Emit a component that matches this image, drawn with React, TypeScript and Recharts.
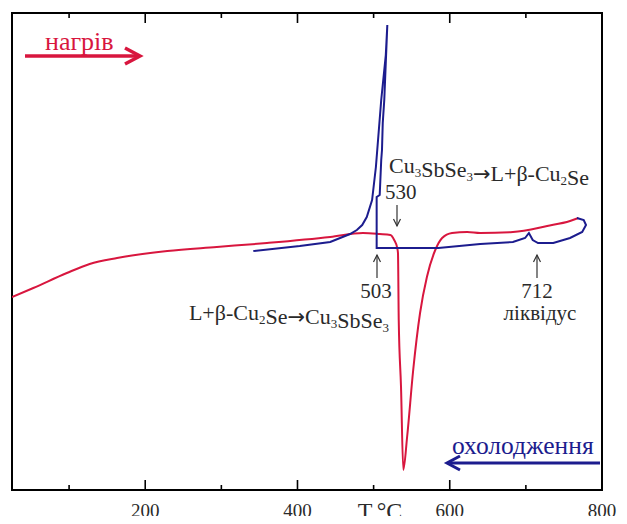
import { LineChart, Line, XAxis, YAxis, ReferenceArea } from 'recharts';

// heating run (red), temperature °C vs DTA signal (arb. units)
const heatTemp = [25, 53, 97, 127, 163, 229, 294, 360, 443, 486, 508, 522, 527, 531, 532, 533, 536, 539, 544, 552, 561, 570, 581, 590, 603, 623, 640, 683, 728, 758, 769];
const heatSignal = [193, 202, 217, 226, 232, 239, 243, 247, 253, 257, 256, 255, 250, 242, 237, 170, 103, 20, 53, 120, 177, 213, 240, 252, 257, 258, 257, 258, 264, 269, 272];

// cooling run (blue), in recorded order: from the hot end back down
const coolTemp = [767, 776, 779, 774, 758, 736, 716, 709, 704, 699, 683, 640, 585, 504, 504, 508, 510, 511, 512, 514, 518, 516, 510, 503, 498, 491, 485, 478, 469, 456, 443, 403, 342];
const coolSignal = [272, 270, 265, 258, 252, 247, 247, 250, 257, 252, 248, 246, 242, 242, 293, 295, 330, 340, 367, 390, 465, 435, 390, 323, 290, 273, 265, 260, 256, 252, 248, 244, 239];

const xTicks = [100, 200, 300, 400, 500, 600, 700, 800];
const xLabels = [200, 400, 600, 800];

const heating = heatTemp.map((t, i) => ({ t, s: heatSignal[i] }));
const cooling = coolTemp.map((t, i) => ({ t, s: coolSignal[i] }));

const RED = '#d8163e';
const BLUE = '#1c1c8e';
const INK = '#2a2a2a';
const FONT = '"Liberation Serif", "DejaVu Serif", "Times New Roman", serif';
const PLOT_H = 477;

// bottom tick + mirrored tick on the top frame
const FrameTick = (props: any) => {
  const { x, y, payload } = props;
  const major = xLabels.includes(payload.value);
  const len = major ? 10 : 5;
  return (
    <g>
      <line x1={x} x2={x} y1={y} y2={y - len} stroke="#000" strokeWidth={1.6} />
      <line x1={x} x2={x} y1={y - PLOT_H} y2={y - PLOT_H + len} stroke="#000" strokeWidth={1.6} />
      {major && (
        <text x={x} y={y + 27} textAnchor="middle" fontSize={19} fontFamily={FONT} fill={INK}>
          {payload.value}
        </text>
      )}
    </g>
  );
};

const Sub = ({ children }: { children: string }) => (
  <>
    <tspan fontSize={13} dy={4}>{children}</tspan>
    <tspan dy={-4}></tspan>
  </>
);

const Arr = () => <tspan fontFamily="DejaVu Sans" fontSize={21}>→</tspan>;

const SmallArrow = ({ x, y1, y2 }: { x: number; y1: number; y2: number }) => {
  const dir = y2 > y1 ? 1 : -1;
  return (
    <g stroke="#333" strokeWidth={1.2} fill="none">
      <line x1={x} x2={x} y1={y1} y2={y2} />
      <polyline points={`${x - 3.5},${y2 - dir * 7} ${x},${y2} ${x + 3.5},${y2 - dir * 7}`} />
    </g>
  );
};

export default function App() {
  return (
    <div style={{ position: 'relative', width: 611, height: 516, marginBottom: -8 }}>
      <LineChart width={611} height={516} margin={{ top: 5, right: 17, left: 4, bottom: 0 }}>
        <XAxis
          type="number"
          dataKey="t"
          domain={[25, 800]}
          ticks={xTicks}
          allowDataOverflow
          height={34}
          tickSize={0}
          tickMargin={0}
          tick={<FrameTick />}
          axisLine={false}
          tickLine={false}
        />
        <YAxis type="number" domain={[0, 477]} allowDataOverflow hide />
        <ReferenceArea x1={25} x2={800} y1={0} y2={477} stroke="#000" strokeWidth={2} fill="none" fillOpacity={0} ifOverflow="extendDomain" />
        <Line data={heating} dataKey="s" type="monotone" stroke={RED} strokeWidth={2} dot={false} isAnimationActive={false} />
        <Line data={cooling} dataKey="s" type="linear" stroke={BLUE} strokeWidth={2} dot={false} isAnimationActive={false} />
      </LineChart>
      <svg width={611} height={516} style={{ position: 'absolute', left: 0, top: 0, pointerEvents: 'none' }}>
        <g transform="translate(-8,-8)" fontFamily={FONT}>
          <text x={45} y={50} fontSize={26} fill={RED}>нагрів</text>
          <line x1={25} x2={137} y1={56} y2={56} stroke={RED} strokeWidth={3.5} />
          <polyline points="125,48 140,56 125,64" stroke={RED} strokeWidth={3.5} fill="none" />

          <text x={452} y={454} fontSize={25.5} fill={BLUE}>охолодження</text>
          <line x1={450} x2={600} y1={463} y2={463} stroke={BLUE} strokeWidth={3} />
          <polyline points="460,456 447,463 460,470" stroke={BLUE} strokeWidth={3} fill="none" />

          <text x={389} y={173} fontSize={22} fill={INK}>
            Cu<Sub>3</Sub>SbSe<Sub>3</Sub><Arr />L+β-Cu<Sub>2</Sub>Se
          </text>
          <text x={385} y={199} fontSize={21} fill={INK}>530</text>
          <SmallArrow x={397} y1={205} y2={226} />

          <SmallArrow x={377} y1={278} y2={255} />
          <text x={376} y={298} fontSize={21} fill={INK} textAnchor="middle">503</text>
          <text x={389} y={320} fontSize={22} fill={INK} textAnchor="end">
            L+β-Cu<Sub>2</Sub>Se<Arr />Cu<Sub>3</Sub>SbSe<Sub>3</Sub>
          </text>

          <SmallArrow x={537} y1={278} y2={255} />
          <text x={537} y={298} fontSize={21} fill={INK} textAnchor="middle">712</text>
          <text x={540} y={320} fontSize={21} fill={INK} textAnchor="middle">ліквідус</text>

          <text x={380} y={519} fontSize={24} fill={INK} textAnchor="middle">T,°C</text>
        </g>
      </svg>
    </div>
  );
}
